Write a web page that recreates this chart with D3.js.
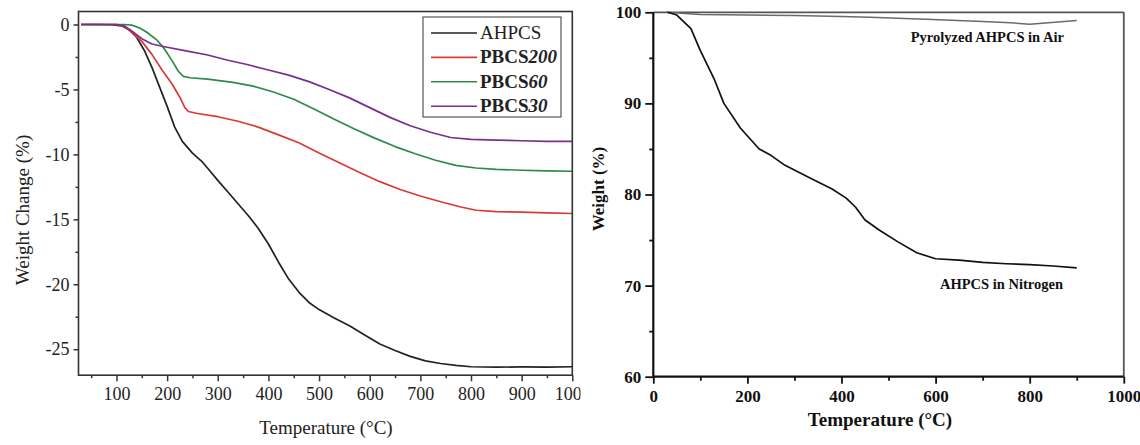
<!DOCTYPE html>
<html>
<head>
<meta charset="utf-8">
<script src="https://cdn.jsdelivr.net/npm/d3@7/dist/d3.min.js"></script>
<style>
  html, body { margin: 0; padding: 0; background: #fff; }
  svg { display: block; font-family: "Liberation Serif", "Times New Roman", serif; }
</style>
</head>
<body>
<svg id="chart" width="1140" height="445"></svg>
<script>
// ---------- Left panel data (Temperature °C, Weight change %) ----------
const leftSeriesNames = ["AHPCS", "PBCS200", "PBCS60", "PBCS30"];
const ahpcs = [[30,0],[60,0],[90,-0.02],[110,-0.1],[125,-0.4],[140,-1.0],[155,-2.0],[170,-3.3],[185,-4.8],[200,-6.3],[215,-7.9],[230,-9.0],[250,-9.9],[270,-10.6],[285,-11.3],[300,-12.0],[320,-12.9],[340,-13.8],[360,-14.7],[380,-15.7],[400,-16.9],[420,-18.3],[440,-19.6],[460,-20.6],[480,-21.4],[500,-21.95],[530,-22.6],[560,-23.2],[590,-23.9],[620,-24.6],[650,-25.1],[680,-25.55],[710,-25.9],[740,-26.1],[770,-26.25],[800,-26.35],[850,-26.38],[900,-26.36],[950,-26.38],[1000,-26.35]];
const pbcs200 = [[30,0],[100,0],[115,-0.15],[130,-0.6],[150,-1.3],[170,-2.3],[190,-3.5],[210,-4.6],[225,-5.6],[235,-6.4],[242,-6.7],[260,-6.85],[300,-7.1],[340,-7.45],[380,-7.9],[420,-8.5],[460,-9.1],[500,-9.9],[540,-10.65],[580,-11.4],[620,-12.1],[660,-12.7],[700,-13.2],[740,-13.65],[780,-14.05],[810,-14.3],[850,-14.4],[900,-14.45],[950,-14.5],[1000,-14.55]];
const pbcs60 = [[30,0],[115,0],[130,-0.05],[145,-0.25],[160,-0.6],[180,-1.2],[195,-1.9],[210,-2.8],[222,-3.6],[232,-4.0],[245,-4.1],[280,-4.2],[330,-4.45],[370,-4.75],[410,-5.2],[450,-5.75],[490,-6.5],[530,-7.3],[570,-8.05],[610,-8.75],[650,-9.4],[690,-9.95],[730,-10.45],[770,-10.85],[810,-11.05],[850,-11.15],[900,-11.22],[950,-11.27],[1000,-11.3]];
const pbcs30 = [[30,0],[100,0],[115,-0.1],[130,-0.5],[150,-1.1],[170,-1.5],[200,-1.75],[240,-2.05],[280,-2.35],[320,-2.75],[360,-3.1],[400,-3.5],[440,-3.9],[480,-4.4],[520,-5.0],[560,-5.65],[600,-6.4],[640,-7.15],[680,-7.8],[720,-8.3],[760,-8.7],[800,-8.85],[850,-8.9],[900,-8.95],[950,-9.0],[1000,-9.0]];
const leftColors = ["#222222", "#d93a36", "#2f8a4a", "#7a2f8c"];
const leftXTicks = [100,200,300,400,500,600,700,800,900,1000];
const leftXMinor = [50,150,250,350,450,550,650,750,850,950];
const leftYTicks = [0,-5,-10,-15,-20,-25];
const leftYMinor = [-2.5,-7.5,-12.5,-17.5,-22.5];

// ---------- Right panel data (Temperature °C, Weight %) ----------
const nitrogen = [[30,100],[50,99.7],[80,98.2],[100,95.8],[130,92.6],[150,90.0],[185,87.3],[225,85.0],[250,84.3],[280,83.2],[330,81.9],[380,80.6],[410,79.6],[430,78.6],[450,77.2],[480,76.1],[520,74.8],[560,73.6],[600,72.95],[650,72.8],[700,72.55],[750,72.4],[800,72.3],[850,72.15],[900,71.95]];
const air = [[30,100],[60,99.9],[100,99.75],[200,99.7],[300,99.65],[400,99.55],[460,99.45],[580,99.25],[700,99.0],[760,98.85],[800,98.7],[840,98.85],[900,99.1]];
const rightXTicks = [0,200,400,600,800,1000];
const rightXMinor = [100,300,500,700,900];
const rightYTicks = [60,70,80,90,100];
const rightYMinor = [65,75,85,95];

const svg = d3.select("#chart");

// ================= LEFT PANEL =================
const xL = d3.scaleLinear().domain([25, 1000]).range([78.5, 572.3]);
const yL = d3.scaleLinear().domain([-27, 1]).range([375.2, 11.5]);

svg.append("defs").append("clipPath").attr("id", "clipL")
  .append("rect").attr("x", 0).attr("y", -50).attr("width", 580.5).attr("height", 500);

const gL = svg.append("g");
const lineL = d3.line().x(d => xL(d[0])).y(d => yL(d[1]));
[ahpcs, pbcs200, pbcs60, pbcs30].forEach((s, i) => {
  gL.append("path").datum(s).attr("d", lineL)
    .attr("fill", "none").attr("stroke", leftColors[i]).attr("stroke-width", 1.7)
    .attr("stroke-linejoin", "round");
});

// frame
gL.append("rect").attr("x", xL(25)).attr("y", yL(1))
  .attr("width", xL(1000) - xL(25)).attr("height", yL(-27) - yL(1))
  .attr("fill", "none").attr("stroke", "#333").attr("stroke-width", 1.6);

// axes
const axLB = gL.append("g").attr("transform", `translate(0,${yL(-27)})`).attr("clip-path", "url(#clipL)")
  .call(d3.axisBottom(xL).tickValues(leftXTicks).tickSize(6).tickPadding(6).tickFormat(d3.format("d")));
const axLBm = gL.append("g").attr("transform", `translate(0,${yL(-27)})`)
  .call(d3.axisBottom(xL).tickValues(leftXMinor).tickSize(3).tickFormat(""));
const axLL = gL.append("g").attr("transform", `translate(${xL(25)},0)`)
  .call(d3.axisLeft(yL).tickValues(leftYTicks).tickSize(5).tickPadding(4).tickFormat(d3.format("d")));
const axLLm = gL.append("g").attr("transform", `translate(${xL(25)},0)`)
  .call(d3.axisLeft(yL).tickValues(leftYMinor).tickSize(3).tickFormat(""));
[axLB, axLBm, axLL, axLLm].forEach(a => {
  a.select(".domain").remove();
  a.selectAll("line").attr("stroke", "#333").attr("stroke-width", 1.5);
  a.selectAll("text").attr("font-family", "Liberation Serif").attr("font-size", 18).attr("fill", "#222");
});
axLL.selectAll("text").text(d => d === 0 ? "0" : "-" + Math.abs(d));

gL.append("text").attr("x", 326).attr("y", 434).attr("text-anchor", "middle")
  .attr("font-size", 19).attr("fill", "#222").text("Temperature (°C)");
gL.append("text").attr("transform", "translate(29,210) rotate(-90)").attr("text-anchor", "middle")
  .attr("font-size", 19).attr("fill", "#222").text("Weight Change (%)");

// legend
const leg = gL.append("g");
leg.append("rect").attr("x", 423).attr("y", 17).attr("width", 138).attr("height", 100)
  .attr("fill", "#fff").attr("stroke", "#555").attr("stroke-width", 1.2);
const legLabels = [["AHPCS", ""], ["PBCS", "200"], ["PBCS", "60"], ["PBCS", "30"]];
legLabels.forEach((lab, i) => {
  const yy = 33 + i * 24.4;
  leg.append("line").attr("x1", 431).attr("x2", 477).attr("y1", yy).attr("y2", yy)
    .attr("stroke", leftColors[i]).attr("stroke-width", 1.6);
  const t = leg.append("text").attr("x", 480).attr("y", yy + 6).attr("font-size", 19).attr("fill", "#222");
  if (i === 0) {
    t.text(lab[0]);
  } else {
    t.append("tspan").attr("font-weight", "bold").text(lab[0]);
    t.append("tspan").attr("font-weight", "bold").attr("font-style", "italic").text(lab[1]);
  }
});

// ================= RIGHT PANEL =================
const xR = d3.scaleLinear().domain([0, 1000]).range([653.3, 1123.8]);
const yR = d3.scaleLinear().domain([60, 100]).range([376.7, 12.3]);
const gR = svg.append("g");
const lineR = d3.line().x(d => xR(d[0])).y(d => yR(d[1]));

// top & right border (gray)
gR.append("line").attr("x1", xR(0)).attr("x2", xR(1000)).attr("y1", yR(100)).attr("y2", yR(100))
  .attr("stroke", "#555").attr("stroke-width", 1.8);
gR.append("line").attr("x1", xR(1000)).attr("x2", xR(1000)).attr("y1", yR(100)).attr("y2", yR(60))
  .attr("stroke", "#555").attr("stroke-width", 1.8);

gR.append("path").datum(air).attr("d", lineR).attr("fill", "none")
  .attr("stroke", "#6a6a6a").attr("stroke-width", 1.5);
gR.append("path").datum(nitrogen).attr("d", lineR).attr("fill", "none")
  .attr("stroke", "#111").attr("stroke-width", 1.7).attr("stroke-linejoin", "round");

const axRB = gR.append("g").attr("transform", `translate(0,${yR(60)})`)
  .call(d3.axisBottom(xR).tickValues(rightXTicks).tickSize(7).tickPadding(6).tickFormat(d3.format("d")));
const axRBm = gR.append("g").attr("transform", `translate(0,${yR(60)})`)
  .call(d3.axisBottom(xR).tickValues(rightXMinor).tickSize(4).tickFormat(""));
const axRL = gR.append("g").attr("transform", `translate(${xR(0)},0)`)
  .call(d3.axisLeft(yR).tickValues(rightYTicks).tickSize(8).tickPadding(4).tickFormat(d3.format("d")));
const axRLm = gR.append("g").attr("transform", `translate(${xR(0)},0)`)
  .call(d3.axisLeft(yR).tickValues(rightYMinor).tickSize(4).tickFormat(""));
[axRB, axRBm, axRL, axRLm].forEach(a => {
  a.select(".domain").attr("stroke", "#111").attr("stroke-width", 2.2);
  a.selectAll("line").attr("stroke", "#111").attr("stroke-width", 1.8);
  a.selectAll("text").attr("font-family", "Liberation Serif").attr("font-size", 17)
    .attr("font-weight", "bold").attr("fill", "#111");
});
axRB.select(".domain").attr("d", `M${xR(0)},0H${xR(1000)}`);
axRL.select(".domain").attr("d", `M0,${yR(60)}V${yR(100)}`);
axRBm.select(".domain").remove();
axRLm.select(".domain").remove();

gR.append("text").attr("x", 880).attr("y", 426).attr("text-anchor", "middle")
  .attr("font-size", 19).attr("font-weight", "bold").attr("fill", "#111").text("Temperature (°C)");
gR.append("text").attr("transform", "translate(604,189) rotate(-90)").attr("text-anchor", "middle")
  .attr("font-size", 17).attr("font-weight", "bold").attr("fill", "#111").text("Weight (%)");

gR.append("text").attr("x", xR(710)).attr("y", 42).attr("text-anchor", "middle")
  .attr("font-size", 14.5).attr("font-weight", "bold").attr("fill", "#111").text("Pyrolyzed AHPCS in Air");
gR.append("text").attr("x", xR(740)).attr("y", 289).attr("text-anchor", "middle")
  .attr("font-size", 14.5).attr("font-weight", "bold").attr("fill", "#111").text("AHPCS in Nitrogen");
</script>
</body>
</html>
